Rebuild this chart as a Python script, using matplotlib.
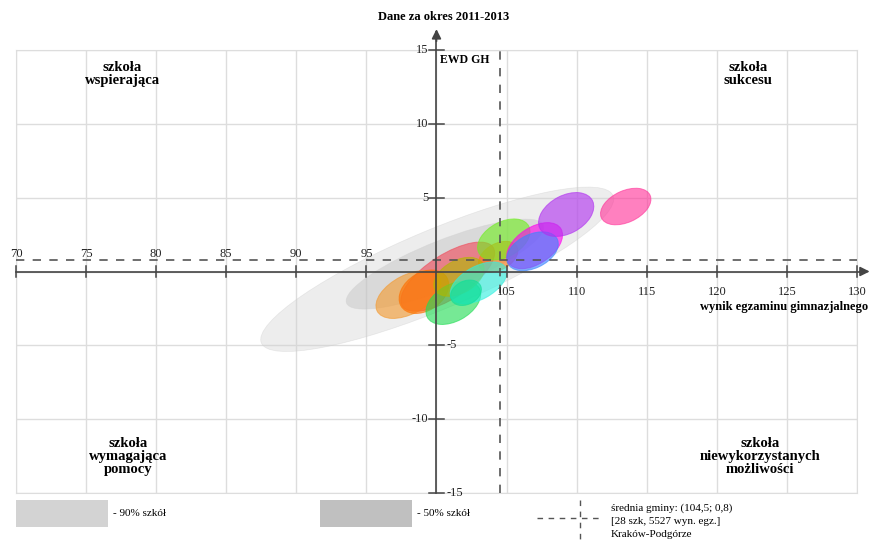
"""
Wykres EWD GH - szkoły gimnazjalne, Kraków-Podgórze
"""
import matplotlib
matplotlib.use('Agg')
import matplotlib.pyplot as plt
from matplotlib.patches import Ellipse, Rectangle
from matplotlib.lines import Line2D

# osie
x_ticks = [70, 75, 80, 85, 90, 95, 105, 110, 115, 120, 125, 130]
y_ticks = [15, 10, 5, -5, -10, -15]
mean_x = 104.5
mean_y = 0.8

# obszary 90% i 50% szkół (środek x, środek y, oś duża, oś mała, kąt)
area_x = [100.05, 100.6]
area_y = [0.15, 0.5]
area_w = [27.0, 15.0]
area_h = [5.4, 3.3]
area_ang = [21.6, 20.5]
area_colors = ['#d2d2d2', '#bdbdbd']

# elipsy szkół
ell_x = [100.8, 98.0, 99.1, 104.4, 101.2, 101.6, 103.0, 102.1, 104.8, 107.0, 106.85, 109.25, 113.5]
ell_y = [-0.35, -1.56, -1.37, 1.0, -2.12, -0.36, -0.77, -1.44, 2.17, 1.75, 1.37, 3.86, 4.4]
ell_w = [7.6, 5.0, 3.8, 3.0, 4.2, 3.85, 4.4, 2.3, 4.0, 4.4, 3.9, 4.2, 3.8]
ell_h = [3.0, 2.65, 2.6, 1.8, 2.5, 2.25, 2.25, 1.6, 2.4, 2.5, 2.3, 2.6, 2.15]
ell_ang = [31, 26, 30, 26, 27, 26, 27, 23, 26, 31, 24, 26, 23]
ell_colors = ['#f04a5a', '#f39a30', '#ff7000', '#ff7a10', '#22dd55', '#b0b800',
              '#30f0e0', '#10dd99', '#70ee20', '#ff00ee', '#3a85ff', '#b030f0', '#ff3399']

quad_labels = ['szkoła\nwspierająca', 'szkoła\nsukcesu',
               'szkoła\nwymagająca\npomocy', 'szkoła\nniewykorzystanych\nmożliwości']
quad_x = [77.6, 122.2, 78.0, 123.1]
quad_y = [13.4, 13.4, -12.5, -12.5]

W, H = 873, 542
fig = plt.figure(figsize=(W / 100, H / 100), dpi=100)
ax = fig.add_axes([16 / W, 1 - 493 / H, (857 - 16) / W, (493 - 50) / H])
ax.set_xlim(70, 130)
ax.set_ylim(-15, 15)
ax.set_xticks(range(70, 131, 5))
ax.set_yticks(range(-15, 16, 5))
ax.grid(True, color='#dddddd', lw=1)
ax.tick_params(length=0, labelbottom=False, labelleft=False)
for s in ax.spines.values():
    s.set_color('#dddddd')
ax.set_axisbelow(True)

serif = ['Liberation Serif', 'DejaVu Serif']

for i in range(2):
    ax.add_patch(Ellipse((area_x[i], area_y[i]), area_w[i], area_h[i], angle=area_ang[i],
                         facecolor=area_colors[i], alpha=0.4, edgecolor='#cccccc',
                         lw=0.5, zorder=2))

for i in range(len(ell_x)):
    ax.add_patch(Ellipse((ell_x[i], ell_y[i]), ell_w[i], ell_h[i], angle=ell_ang[i],
                         facecolor=ell_colors[i], alpha=0.62, edgecolor=ell_colors[i],
                         lw=0.7, zorder=3))

# średnia gminy
ax.axhline(mean_y, color='#555555', lw=1.2, ls=(0, (5, 5)), zorder=4)
ax.axvline(mean_x, color='#555555', lw=1.2, ls=(0, (5, 5)), zorder=4)

# osie główne ze strzałkami
ax.plot([70, 130.6], [0, 0], color='#444444', lw=1.2, zorder=5, clip_on=False)
ax.plot([100, 100], [-15, 16.2], color='#444444', lw=1.2, zorder=5, clip_on=False)
ax.annotate('', xy=(131.1, 0), xytext=(130.0, 0),
            arrowprops=dict(arrowstyle='-|>', color='#444444', lw=1.2, mutation_scale=14),
            annotation_clip=False, zorder=5)
ax.annotate('', xy=(100, 16.6), xytext=(100, 15.4),
            arrowprops=dict(arrowstyle='-|>', color='#444444', lw=1.2, mutation_scale=14),
            annotation_clip=False, zorder=5)

for t in range(70, 131, 5):
    if t == 100:
        continue
    ax.plot([t, t], [-0.4, 0.4], color='#444444', lw=1.1, zorder=5, clip_on=False)
for t in y_ticks:
    ax.plot([99.5, 100.5], [t, t], color='#444444', lw=1.1, zorder=5, clip_on=False)

for t in x_ticks:
    if t < 100:
        ax.text(t, 0.75, str(t), ha='center', va='bottom', fontsize=9, family=serif,
                color='#222222', zorder=6)
    else:
        ax.text(t, -1.0, str(t), ha='center', va='top', fontsize=9, family=serif,
                color='#222222', zorder=6)
for t in y_ticks:
    if t in (-5, -15):
        ax.text(100.7, t, str(t), ha='left', va='center', fontsize=9, family=serif,
                color='#222222', zorder=6)
    else:
        ax.text(99.4, t, str(t), ha='right', va='center', fontsize=9, family=serif,
                color='#222222', zorder=6)

ax.text(100.25, 14.35, 'EWD GH', ha='left', va='center', fontsize=8.5, family=serif,
        fontweight='bold', zorder=6)
ax.text(130.8, -2.4, 'wynik egzaminu gimnazjalnego', ha='right', va='center', fontsize=9,
        family=serif, fontweight='bold', zorder=6)

for lab, qx, qy in zip(quad_labels, quad_x, quad_y):
    ax.text(qx, qy, lab, ha='center', va='center', fontsize=10.5, family=serif,
            fontweight='bold', linespacing=1.0, zorder=6)

fig.text(444 / W, 1 - 17 / H, 'Dane za okres 2011-2013', ha='center', va='center',
         fontsize=9, family=serif, fontweight='bold')

# legenda
fig.add_artist(Rectangle((16 / W, 1 - 527 / H), 92 / W, 27 / H, facecolor='#d3d3d3',
                         edgecolor='none', transform=fig.transFigure))
fig.add_artist(Rectangle((320 / W, 1 - 527 / H), 92 / W, 27 / H, facecolor='#c0c0c0',
                         edgecolor='none', transform=fig.transFigure))
fig.text(113 / W, 1 - 514 / H, '- 90% szkół', ha='left', va='center', fontsize=8, family=serif)
fig.text(417 / W, 1 - 514 / H, '- 50% szkół', ha='left', va='center', fontsize=8, family=serif)
fig.add_artist(Line2D([537 / W, 600 / W], [1 - 518 / H, 1 - 518 / H], color='#555555', lw=1,
                      ls=(0, (4, 4)), transform=fig.transFigure))
fig.add_artist(Line2D([580 / W, 580 / W], [1 - 500 / H, 1 - 541 / H], color='#555555', lw=1,
                      ls=(0, (4, 4)), transform=fig.transFigure))
fig.text(611 / W, 1 - 521 / H, 'średnia gminy: (104,5; 0,8)\n[28 szk, 5527 wyn. egz.]\nKraków-Podgórze',
         ha='left', va='center', fontsize=8, family=serif, linespacing=1.6)

fig.savefig('out.png', dpi=100)
